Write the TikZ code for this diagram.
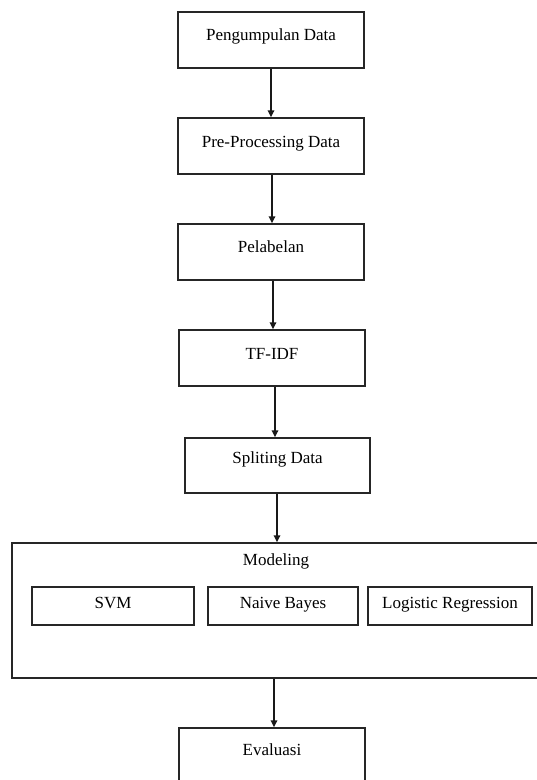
\documentclass[tikz,border=0pt]{standalone}
\usepackage{fontspec}
\setmainfont{Liberation Serif}
\usetikzlibrary{arrows.meta}
\begin{document}
\begin{tikzpicture}[x=1pt,y=-1pt,
  box/.style={draw=black!85, line width=1.4pt, rectangle, inner sep=0pt},
  lbl/.style={anchor=base, inner sep=0pt, font=\fontsize{17}{20}\selectfont},
  flow/.style={draw=black!90, line width=1.5pt, -{Triangle[length=7pt,width=6.5pt]}}]
\useasboundingbox (0,0) rectangle (537,780);
\fill[white] (0,0) rectangle (537,780);

% main process steps
\node[box, minimum width=186pt, minimum height=56pt] (b1) at (271,40) {};
\node[lbl] (t1) at (271,40) {Pengumpulan Data};
\node[box, minimum width=186pt, minimum height=56pt] (b2) at (271,146) {};
\node[lbl] (t2) at (271,147) {Pre-Processing Data};
\node[box, minimum width=186pt, minimum height=56pt] (b3) at (271,252) {};
\node[lbl] (t3) at (271,252) {Pelabelan};
\node[box, minimum width=186pt, minimum height=56pt] (b4) at (272,358) {};
\node[lbl] (t4) at (272,359) {TF-IDF};
\node[box, minimum width=185pt, minimum height=55pt] (b5) at (277.5,465.5) {};
\node[lbl] (t5) at (277.5,463) {Spliting Data};

% modeling group (runs past the right edge)
\node[box, minimum width=560pt, minimum height=135pt] (model) at (292,610.5) {};
\node[lbl] (tm) at (276,565) {Modeling};
\node[box, minimum width=162pt, minimum height=38pt] (svm) at (113,606) {};
\node[lbl] (tsvm) at (113,608) {SVM};
\node[box, minimum width=150pt, minimum height=38pt] (nb) at (283,606) {};
\node[lbl] (tnb) at (283,608) {Naive Bayes};
\node[box, minimum width=164pt, minimum height=38pt] (lr) at (450,606) {};
\node[lbl] (tlr) at (450,608) {Logistic Regression};

% evaluation (runs past the bottom edge)
\node[box, minimum width=186pt, minimum height=72pt] (ev) at (272,764) {};
\node[lbl] (tev) at (272,755) {Evaluasi};

% connectors, each dropping straight down
\draw[flow] (b1.south) -- (b1.south |- b2.north);
\draw[flow] ([xshift=1pt]b2.south) -- ([xshift=1pt]b2.south |- b3.north);
\draw[flow] ([xshift=2pt]b3.south) -- ([xshift=2pt]b3.south |- b4.north);
\draw[flow] ([xshift=3pt]b4.south) -- ([xshift=3pt]b4.south |- b5.north);
\draw[flow] ([xshift=-0.5pt]b5.south) -- ([xshift=-0.5pt]b5.south |- model.north);
\draw[flow] ([xshift=2pt]ev.north |- model.south) -- ([xshift=2pt]ev.north);
\end{tikzpicture}
\end{document}
